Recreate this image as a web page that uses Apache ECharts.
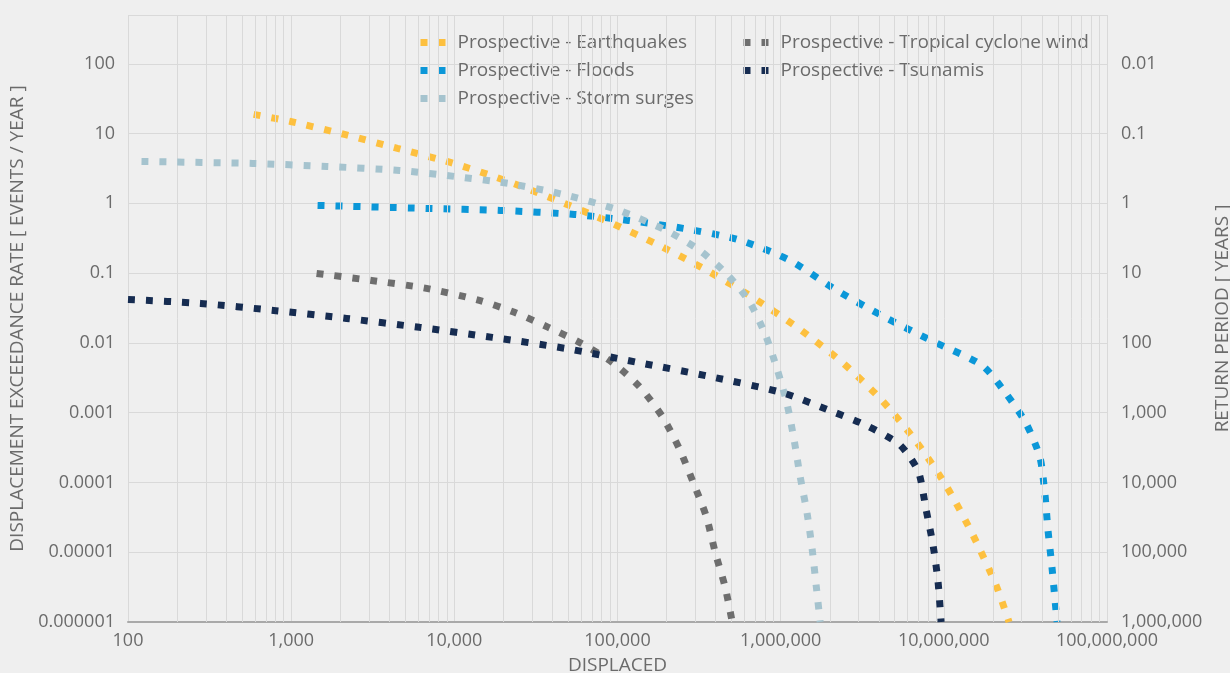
<!DOCTYPE html>
<html>
<head>
<meta charset="utf-8">
<title>Displacement exceedance rate</title>
<script src="https://cdn.jsdelivr.net/npm/echarts@6/dist/echarts.min.js"></script>
<style>
  html, body { margin: 0; padding: 0; background: #efefef; }
  #chart { width: 1230px; height: 673px; }
</style>
</head>
<body>
<div id="chart"></div>
<script>
// Exceedance curves: [people displaced, events per year]
const earthquakes = [
  [589, 18.8], [991, 14.9], [2123, 9.7], [4484, 6.12], [9466, 3.85],
  [19720, 2.2], [41020, 1.14], [84140, 0.569], [170300, 0.266],
  [335000, 0.117], [659000, 0.0464], [1262000, 0.0167], [2344000, 0.00543],
  [4120000, 0.00155], [6760000, 0.000388], [10470000, 0.0000851],
  [15100000, 0.0000175], [20900000, 0.00000336], [25100000, 0.000001]
];
const floods = [
  [1452, 0.933], [6745, 0.845], [19150, 0.791], [54330, 0.693],
  [116400, 0.569], [252900, 0.437], [541600, 0.304], [1110000, 0.157],
  [2160000, 0.0584], [4250000, 0.024], [8590000, 0.0105],
  [17140000, 0.00476], [24000000, 0.00189], [31900000, 0.000703],
  [38800000, 0.000229], [41600000, 0.0000698], [43500000, 0.0000206],
  [46000000, 0.00000608], [49400000, 0.000001]
];
const stormSurges = [
  [121, 3.98], [580, 3.73], [1647, 3.38], [4610, 2.96], [10020, 2.43],
  [21440, 1.93], [46560, 1.34], [98300, 0.818], [199000, 0.409],
  [312600, 0.219], [463400, 0.099], [641200, 0.0393], [803500, 0.01325],
  [952400, 0.00417], [1096000, 0.00131], [1210000, 0.000401],
  [1316000, 0.000122], [1452000, 0.0000361], [1560000, 0.000011],
  [1650000, 0.00000336], [1746000, 0.000001]
];
const tropicalCycloneWind = [
  [1431, 0.099], [3105, 0.0785], [6745, 0.0604], [14250, 0.0406],
  [23340, 0.0274], [37670, 0.0167], [60000, 0.00984], [92900, 0.00526],
  [135900, 0.00238], [187900, 0.000885], [238800, 0.000308],
  [291100, 0.0001], [349900, 0.0000327], [397200, 0.00000995],
  [457100, 0.00000314], [504700, 0.000001]
];
const tsunamis = [
  [100, 0.042], [279, 0.0368], [780, 0.0292], [2184, 0.0224], [6115, 0.0167],
  [17100, 0.012], [47900, 0.00834], [132200, 0.00526], [364800, 0.00331],
  [1007000, 0.00195], [2070000, 0.00104], [3340000, 0.000658],
  [5250000, 0.000363], [6210000, 0.000229], [7050000, 0.000135],
  [7780000, 0.0000412], [8590000, 0.0000126], [9210000, 0.00000383],
  [9620000, 0.000001]
];

const seriesNames = [
  'Prospective - Earthquakes',
  'Prospective - Floods',
  'Prospective - Storm surges',
  'Prospective - Tropical cyclone wind',
  'Prospective - Tsunamis'
];
const seriesColors = ['#FDC03F', '#0B97D8', '#A5C3CE', '#6E6E6E', '#162C51'];
const seriesData = [earthquakes, floods, stormSurges, tropicalCycloneWind, tsunamis];

// Axis ranges
const xRange = [100, 100000000];
const rateRange = [0.000001, 500];
const periodRange = [1 / 500, 1000000];

// Log minor grid: 2..9 within every decade of the x range
const xMinorLines = [];
for (let d = 100; d < xRange[1]; d *= 10) {
  for (let k = 2; k <= 9; k++) xMinorLines.push(d * k);
}

const FONT = '"Open Sans", "Noto Sans", sans-serif';
const TEXT = '#6b6b6b';
const GRID = '#d9d9d9';
const DOTS = [7, 11];

function isDecade(v) {
  const e = Math.log10(v);
  return Math.abs(e - Math.round(e)) < 1e-6;
}
function fmtDecade(v) {
  if (!isDecade(v)) return '';
  const e = Math.round(Math.log10(v));
  if (e < 0) return Math.pow(10, e).toFixed(-e);
  return Math.pow(10, e).toLocaleString('en-US');
}

const chart = echarts.init(document.getElementById('chart'), null, { renderer: 'canvas' });

const lineSeries = seriesNames.map((name, i) => ({
  name: name,
  type: 'line',
  data: seriesData[i],
  yAxisIndex: 0,
  symbol: 'none',
  smooth: 0.25,
  color: seriesColors[i],
  lineStyle: { width: 7, type: DOTS, cap: 'butt', color: seriesColors[i] },
  z: 3 + i
}));

function legendColumn(names, left) {
  return {
    data: names,
    orient: 'vertical',
    left: left, top: 33,
    padding: 0,
    itemWidth: 25, itemHeight: 14, itemGap: 9,
    lineStyle: { width: 7, type: DOTS },
    itemStyle: { opacity: 0, borderWidth: 0 },
    textStyle: { fontFamily: FONT, fontSize: 19, color: TEXT, padding: [0, 0, 0, 7] }
  };
}

chart.setOption({
  animation: false,
  backgroundColor: '#efefef',
  textStyle: { fontFamily: FONT },
  grid: { left: 128, right: 123, top: 15, bottom: 51, containLabel: false, outerBoundsMode: 'none' },
  legend: [
    legendColumn(seriesNames.slice(0, 3), 417),
    legendColumn(seriesNames.slice(3), 740)
  ],
  xAxis: {
    type: 'log',
    logBase: 10,
    min: xRange[0],
    max: xRange[1],
    interval: 1,
    splitNumber: 6,
    name: 'DISPLACED',
    nameLocation: 'middle',
    nameGap: 34,
    nameTextStyle: { fontFamily: FONT, fontSize: 19, color: TEXT },
    axisLine: { show: true, lineStyle: { color: '#a9a9a9', width: 2 } },
    axisTick: { show: false },
    axisLabel: { fontFamily: FONT, fontSize: 18, color: TEXT, margin: 10, formatter: fmtDecade },
    splitLine: { show: true, lineStyle: { color: GRID, width: 1 } }
  },
  yAxis: [
    {
      type: 'log',
      logBase: 10,
      min: rateRange[0],
      max: rateRange[1],
      interval: 1,
      splitNumber: 9,
      name: 'DISPLACEMENT EXCEEDANCE RATE [ EVENTS / YEAR ]',
      nameLocation: 'middle',
      nameGap: 100,
      nameTextStyle: { fontFamily: FONT, fontSize: 19, color: TEXT },
      axisLine: { show: false },
      axisTick: { show: false },
      axisLabel: { fontFamily: FONT, fontSize: 18, color: TEXT, margin: 13, formatter: fmtDecade },
      splitLine: { show: true, lineStyle: { color: GRID, width: 1 } }
    },
    {
      type: 'log',
      logBase: 10,
      inverse: true,
      position: 'right',
      min: periodRange[0],
      max: periodRange[1],
      splitNumber: 9,
      name: 'RETURN PERIOD [ YEARS ]',
      nameLocation: 'middle',
      nameGap: 104,
      nameTextStyle: { fontFamily: FONT, fontSize: 19, color: TEXT },
      axisLine: { show: false },
      axisTick: { show: false },
      axisLabel: { fontFamily: FONT, fontSize: 18, color: TEXT, margin: 14, formatter: fmtDecade },
      splitLine: { show: false }
    }
  ],
  series: [
    {
      name: 'minor-grid',
      type: 'line',
      data: [],
      silent: true,
      z: 1,
      markLine: {
        silent: true,
        symbol: 'none',
        animation: false,
        label: { show: false },
        lineStyle: { color: GRID, width: 1, type: 'solid' },
        data: xMinorLines.map(v => ({ xAxis: v }))
      }
    }
  ].concat(lineSeries)
});
</script>
</body>
</html>
